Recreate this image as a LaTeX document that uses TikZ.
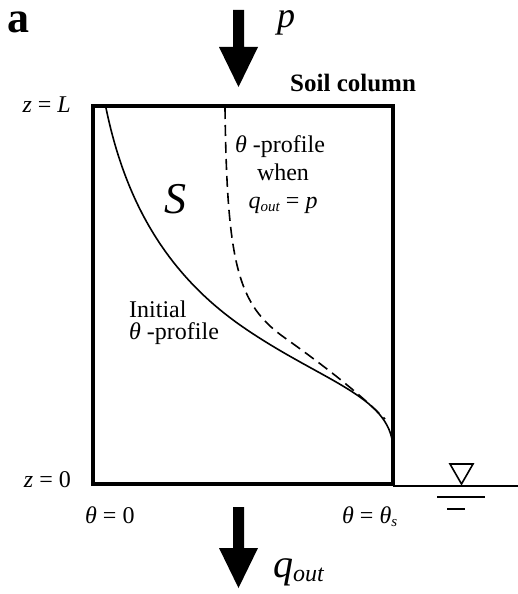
\documentclass[tikz,border=0pt]{standalone}
\usepackage{fontspec}
\setmainfont{Liberation Serif}
\newcommand{\sub}[1]{\raisebox{-0.35ex}{\fontsize{15}{16}\selectfont\textit{#1}}}
\begin{document}
\begin{tikzpicture}[x=1pt,y=-1pt,
  lbl/.style={inner sep=0pt,anchor=base west,font=\fontsize{24}{28}\selectfont},
  lble/.style={inner sep=0pt,anchor=base east,font=\fontsize{24}{28}\selectfont},
  lblc/.style={inner sep=0pt,anchor=base,font=\fontsize{24}{28}\selectfont},
  big/.style={inner sep=0pt,anchor=base west,font=\fontsize{40}{44}\selectfont\itshape},
  wall/.style={line width=4pt,line cap=rect,line join=miter},
  fatarrow/.style={fill=black,draw=none},
  curve/.style={line width=1.6pt}]
\useasboundingbox (0,0) rectangle (518,594);
% box
\coordinate (TL) at (93,106);
\coordinate (TR) at (393,106);
\coordinate (BL) at (93,484);
\coordinate (BR) at (393,484);
\draw[wall] (BL) -- (TL) -- (TR) -- (BR) -- cycle;
% water table
\coordinate (WS) at (393,486);
\coordinate (WT) at (518,486);
\draw[line width=1.3pt] (WS) -- (WT);
\draw[line width=1.6pt,line join=miter] (450,464) -- (473,464) -- (461.5,484) -- cycle;
\draw[line width=1.3pt] (437,497) -- (485,497);
\draw[line width=1.3pt] (447,509) -- (465,509);
% top arrow
\fill[fatarrow] (233,10) -- (244,10) -- (244,47) -- (258,47) -- (238.5,87) -- (219,47) -- (233,47) -- cycle;
% bottom arrow
\fill[fatarrow] (233,507) -- (244,507) -- (244,548) -- (258,548) -- (238.5,588) -- (219,548) -- (233,548) -- cycle;
% curves
\draw[curve] (106,108) .. controls (125,200) and (165,272) .. (240,325)
                       .. controls (320,381) and (390,395) .. (393,447);
\draw[curve,dash pattern=on 11pt off 6pt] (225,108) .. controls (227,265) and (238,305) .. (285,338)
                       .. controls (330,370) and (362,396) .. (385,419);
% labels
\node[inner sep=0pt,anchor=base west,font=\fontsize{44}{48}\selectfont\bfseries] (a) at (7,33) {a};
\node[big,font=\fontsize{36}{40}\selectfont\itshape] (p) at (277,28) {p};
\node[lbl,font=\fontsize{25}{28}\selectfont\bfseries] (soil) at (290,92) {Soil column};
\node[lble] (zL) at (71,112) {\textit{z} = \textit{L}};
\node[lble] (z0) at (71,487) {\textit{z} = 0};
\node[lbl] (t0) at (85,523) {\textit{θ} = 0};
\node[lbl] (ts) at (342,523) {\textit{θ} = \textit{θ}\sub{s}};
\node[big] (qout) at (273,577) {q\raisebox{-0.25ex}{\fontsize{24}{26}\selectfont out}};
\node[big,font=\fontsize{44}{48}\selectfont\itshape] (S) at (164,213) {S};
\node[lbl] (prof1) at (235,152) {\textit{θ} -profile};
\node[lblc] (prof2) at (283,180) {when};
\node[lblc] (prof3) at (283,208) {\textit{q}\sub{out} = \textit{p}};
\node[lbl] (init1) at (129,317) {Initial};
\node[lbl] (init2) at (129,339) {\textit{θ} -profile};
\end{tikzpicture}
\end{document}
